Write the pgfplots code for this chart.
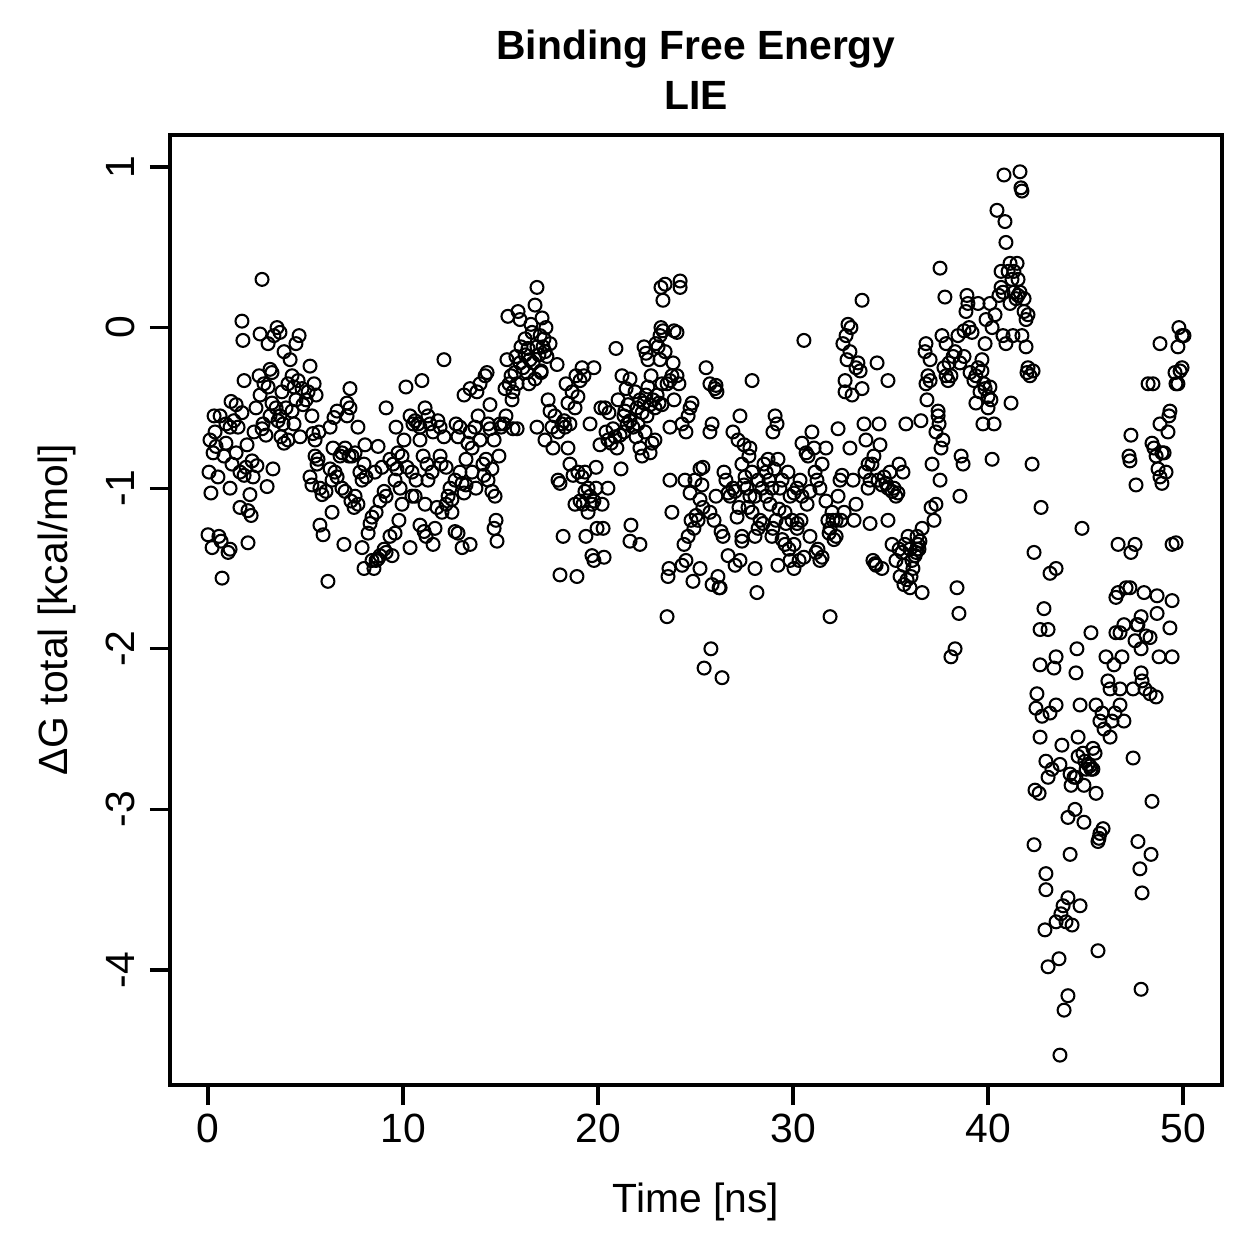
\documentclass[border=0pt]{standalone}
\usepackage{fontspec}
\setmainfont{Liberation Sans}
\usepackage{pgfplots}
\pgfplotsset{compat=1.18}

\begin{document}
\begin{tikzpicture}[font=\fontsize{9.8bp}{11.8bp}\selectfont]
% page frame around the plot region
\path[use as bounding box] (-40.8bp,-41.76bp) rectangle (261.36bp,260.4bp);
\begin{axis}[
  at={(0,0)}, anchor=south west,
  width=252.48bp, height=228bp, scale only axis,
  clip=false,
  xmin=-1.95, xmax=52, ymin=-4.716, ymax=1.199,
  axis line style={line width=0.75bp},
  tick style={line width=0.75bp, black},
  tick align=outside, major tick length=4.8bp,
  xtick pos=bottom, ytick pos=left,
  xtick={0,10,20,30,40,50}, xticklabels={0,10,20,30,40,50},
  ytick={-4,-3,-2,-1,0,1}, yticklabels={-4,-3,-2,-1,0,1},
  xticklabel style={anchor=base, yshift=-9bp},
  yticklabel style={xshift=-3.6bp, rotate=90, anchor=base},
]
\addplot[only marks, mark=o, mark size=1.55bp, mark options={line width=0.5bp, black}]
table[row sep=\\] {
x y\\
0.00 -1.29\\ 0.05 -0.90\\ 0.10 -0.70\\ 0.15 -1.03\\ 0.21 -1.37\\ 0.31 -0.55\\ 0.36 -0.65\\ 0.26 -0.78\\ 0.56 -1.30\\ 0.67 -1.33\\
0.62 -0.55\\ 0.51 -0.93\\ 0.72 -1.56\\ 0.41 -0.74\\ 0.82 -0.80\\ 0.92 -0.60\\ 1.03 -1.40\\ 1.13 -1.38\\ 1.13 -0.62\\ 0.92 -0.72\\
1.18 -0.46\\ 1.44 -0.48\\ 1.33 -0.58\\ 1.23 -0.85\\ 1.54 -0.62\\ 1.13 -1.00\\ 1.64 -0.90\\ 1.85 -0.92\\ 1.44 -0.78\\ 1.74 -0.53\\
1.74 0.04\\ 1.79 -0.08\\ 1.64 -1.12\\ 1.95 -0.87\\ 1.85 -0.33\\ 2.05 -1.14\\ 2.21 -1.17\\ 2.05 -1.34\\ 2.15 -1.04\\ 2.31 -0.93\\
2.26 -0.83\\ 2.00 -0.73\\
2.46 -0.50\\ 2.36 -0.65\\ 2.51 -0.86\\ 2.62 -0.30\\ 2.67 -0.42\\ 2.82 -0.60\\ 2.87 -0.35\\ 2.77 0.30\\ 2.67 -0.04\\ 2.77 -0.63\\
2.97 -0.67\\ 3.03 -0.99\\ 3.08 -0.37\\ 3.18 -0.26\\ 3.08 -0.10\\ 3.28 -0.28\\ 3.28 -0.47\\ 3.33 -0.88\\ 3.18 -0.55\\
3.38 -0.05\\ 3.54 0.00\\ 3.69 -0.03\\ 3.49 -0.50\\ 3.59 -0.58\\ 3.74 -0.68\\ 3.90 -0.72\\ 3.85 -0.60\\ 4.10 -0.70\\ 3.79 -0.40\\
3.90 -0.15\\ 3.69 -0.55\\ 4.10 -0.35\\ 4.00 -0.50\\ 4.21 -0.20\\ 4.31 -0.52\\ 4.41 -0.60\\ 4.31 -0.30\\ 4.51 -0.10\\ 4.41 -0.37\\
4.51 -0.45\\ 4.62 -0.33\\ 4.72 -0.68\\ 4.67 -0.05\\ 4.82 -0.38\\ 4.87 -0.48\\ 5.03 -0.45\\ 5.13 -0.40\\ 5.23 -0.24\\ 5.33 -0.55\\
5.44 -0.35\\ 5.54 -0.42\\
5.23 -0.93\\ 5.33 -0.98\\ 5.49 -0.80\\ 5.64 -0.82\\ 5.74 -1.00\\ 5.85 -1.04\\ 5.74 -1.23\\ 5.90 -1.29\\ 5.59 -0.85\\ 5.49 -0.70\\
5.69 -0.65\\ 5.38 -0.66\\ 6.05 -1.02\\
6.15 -1.58\\ 6.26 -0.88\\ 6.41 -0.75\\ 6.51 -0.90\\ 6.62 -0.93\\ 6.36 -0.95\\ 6.26 -0.62\\ 6.46 -0.56\\ 6.62 -0.52\\ 6.77 -0.80\\
6.87 -0.78\\ 7.03 -0.75\\ 6.87 -1.00\\ 7.03 -1.02\\ 6.97 -1.35\\ 6.36 -1.15\\
7.13 -0.47\\ 7.28 -0.38\\ 7.28 -0.50\\ 7.13 -0.55\\ 7.23 -0.80\\ 7.38 -0.80\\ 7.33 -1.08\\ 7.49 -1.12\\ 7.54 -0.78\\ 7.69 -0.62\\
7.54 -1.05\\ 7.69 -1.10\\ 7.79 -0.90\\ 7.90 -0.95\\ 7.90 -1.37\\ 8.00 -1.50\\ 8.05 -0.73\\ 8.00 -0.85\\
8.31 -1.22\\ 8.21 -1.28\\ 8.41 -1.18\\ 8.10 -0.93\\ 8.41 -1.45\\ 8.62 -1.45\\ 8.51 -1.50\\ 8.82 -1.42\\ 8.72 -1.44\\ 8.62 -1.15\\
8.82 -1.08\\ 8.72 -0.74\\ 8.92 -0.87\\ 8.56 -0.90\\ 9.03 -1.02\\ 9.13 -1.05\\ 9.13 -0.50\\ 9.13 -1.40\\ 9.03 -1.38\\ 9.33 -0.82\\
9.33 -1.30\\ 9.44 -1.42\\
9.49 -0.85\\ 9.59 -0.95\\ 9.69 -0.88\\ 9.74 -0.78\\ 9.85 -1.00\\ 9.64 -0.62\\ 9.95 -0.80\\ 10.05 -0.70\\ 9.95 -1.10\\ 9.59 -1.28\\
9.79 -1.20\\ 10.36 -1.37\\ 10.15 -0.37\\ 10.21 -0.87\\
10.36 -0.55\\ 10.51 -0.60\\ 10.62 -0.58\\ 10.77 -0.60\\ 10.46 -0.90\\ 10.46 -1.05\\ 10.67 -0.95\\ 10.87 -0.62\\ 10.97 -0.33\\ 10.87 -1.23\\
11.08 -1.27\\ 10.62 -1.05\\ 10.87 -0.70\\ 11.03 -0.80\\ 11.23 -0.85\\ 11.13 -1.10\\
11.13 -0.50\\ 11.28 -0.55\\ 11.38 -0.60\\ 11.18 -1.30\\ 11.54 -1.35\\ 11.64 -1.25\\ 11.74 -1.12\\ 11.49 -0.90\\ 11.28 -0.95\\ 11.54 -0.65\\
11.90 -0.62\\ 11.79 -0.58\\ 11.90 -0.80\\ 12.00 -1.15\\ 12.10 -0.68\\ 12.10 -0.20\\ 12.21 -1.10\\
12.21 -0.87\\ 11.95 -0.85\\ 12.31 -1.05\\ 12.41 -1.00\\ 12.51 -1.07\\ 12.67 -1.27\\ 12.67 -0.95\\ 12.72 -0.60\\ 12.82 -0.68\\ 12.92 -0.62\\
12.51 -1.15\\ 12.92 -0.90\\ 13.03 -0.97\\ 12.82 -1.28\\ 13.03 -1.37\\ 13.13 -1.03\\ 13.23 -0.98\\
13.23 -0.82\\ 13.33 -0.72\\ 13.44 -0.65\\ 13.44 -1.35\\ 13.44 -0.38\\ 13.13 -0.42\\ 13.54 -0.75\\ 13.54 -0.90\\ 13.69 -0.62\\ 13.85 -0.55\\
13.95 -0.35\\ 13.79 -0.40\\ 13.95 -0.70\\ 14.10 -0.85\\ 14.26 -0.82\\ 13.74 -1.00\\ 14.15 -0.92\\
14.21 -0.30\\ 14.31 -0.28\\ 14.36 -0.60\\ 14.46 -0.63\\ 14.36 -0.95\\ 14.56 -1.02\\ 14.72 -1.05\\ 14.56 -0.88\\ 14.82 -1.33\\ 14.77 -1.20\\
14.67 -1.25\\ 14.46 -0.48\\ 14.67 -0.70\\ 14.92 -0.80\\ 14.97 -0.60\\
15.03 -0.62\\ 15.18 -0.60\\ 15.28 -0.55\\ 15.23 -0.38\\ 15.33 -0.20\\ 15.38 0.07\\ 15.54 -0.30\\ 15.44 -0.35\\ 15.64 -0.40\\ 15.74 -0.28\\
15.64 -0.63\\ 15.85 -0.63\\ 15.79 -0.18\\ 16.00 0.05\\ 15.90 0.10\\ 16.00 -0.22\\ 15.85 -0.35\\ 15.59 -0.45\\ 16.15 -0.25\\ 16.05 -0.12\\
16.26 -0.17\\ 16.36 -0.28\\ 16.41 -0.13\\ 16.51 -0.20\\ 16.62 -0.03\\ 16.26 -0.07\\ 16.67 -0.22\\ 16.77 -0.32\\ 16.87 -0.12\\ 16.97 -0.17\\
16.77 0.14\\ 16.56 0.02\\ 17.03 -0.05\\ 16.87 -0.62\\ 17.08 -0.27\\ 16.46 -0.35\\ 16.87 0.25\\
17.18 -0.12\\ 17.28 -0.15\\ 17.13 0.06\\ 17.33 0.00\\ 17.23 -0.07\\ 17.38 -0.18\\ 17.08 -0.28\\ 17.54 -0.10\\ 17.44 -0.45\\ 17.54 -0.52\\
17.64 -0.62\\ 17.79 -0.55\\ 17.69 -0.75\\ 17.90 -0.23\\ 17.95 -0.65\\ 17.95 -0.95\\ 18.05 -0.97\\ 17.28 -0.70\\ 18.15 -0.60\\ 18.21 -1.30\\
18.05 -1.54\\ 18.36 -0.35\\ 18.26 -0.58\\
18.31 -0.62\\ 18.46 -0.47\\ 18.56 -0.60\\ 18.46 -0.75\\ 18.56 -0.85\\ 18.67 -0.40\\ 18.87 -0.30\\ 19.08 -0.33\\ 18.82 -0.50\\ 18.72 -0.92\\
18.82 -1.10\\ 18.92 -1.55\\ 18.97 -0.90\\ 19.18 -0.93\\ 19.33 -0.90\\ 19.49 -1.00\\ 19.33 -1.02\\ 19.08 -1.08\\ 19.18 -0.25\\ 18.97 -0.43\\
19.23 -1.10\\ 19.59 -1.05\\ 19.69 -1.10\\ 19.79 -1.08\\ 19.49 -1.15\\ 19.38 -1.30\\ 19.69 -1.42\\ 19.79 -1.45\\ 19.90 -1.00\\ 19.59 -0.60\\
19.95 -1.25\\ 19.90 -0.87\\ 20.10 -0.73\\ 20.15 -0.50\\ 19.79 -0.25\\ 20.41 -0.65\\ 20.31 -1.43\\ 20.26 -1.25\\ 20.51 -1.00\\ 20.21 -1.10\\
19.28 -0.30\\
20.51 -0.70\\ 20.67 -0.72\\ 20.36 -0.50\\ 20.56 -0.53\\ 20.77 -0.63\\ 20.87 -0.68\\ 20.97 -0.75\\ 21.13 -0.67\\ 20.92 -0.13\\ 21.03 -0.45\\
21.18 -0.88\\ 21.33 -0.65\\ 21.49 -0.60\\ 21.23 -0.30\\ 21.44 -0.38\\ 21.38 -0.52\\ 21.33 -0.55\\ 21.54 -0.48\\ 21.64 -1.33\\ 21.69 -1.23\\
21.64 -0.58\\ 21.79 -0.62\\ 21.64 -0.32\\ 21.90 -0.40\\ 22.00 -0.50\\ 22.15 -0.45\\ 22.05 -0.60\\ 21.95 -0.68\\ 22.26 -0.53\\ 22.36 -0.47\\
22.15 -0.75\\ 22.26 -0.80\\ 22.15 -1.35\\ 22.41 -0.65\\ 22.46 -0.42\\ 22.56 -0.37\\
22.36 -0.12\\ 22.46 -0.16\\ 22.56 -0.20\\ 22.72 -0.30\\ 22.67 -0.48\\ 22.92 -0.50\\ 22.82 -0.45\\ 22.51 -0.55\\ 22.77 -0.72\\ 22.67 -0.78\\
23.03 -0.42\\ 22.97 -0.10\\ 23.18 -0.20\\ 23.08 -0.12\\ 23.18 -0.05\\ 23.13 -0.47\\ 23.28 -0.48\\ 22.92 -0.70\\ 23.28 -0.35\\
23.33 0.17\\ 23.23 0.25\\ 23.44 0.27\\ 23.33 -0.02\\ 23.23 0.00\\ 23.44 -0.15\\ 23.54 -0.35\\ 23.69 -0.33\\ 23.79 -0.30\\ 23.54 -1.80\\
23.64 -1.50\\ 23.59 -1.55\\ 23.79 -1.15\\ 23.69 -0.95\\ 23.69 -0.62\\ 23.90 -0.45\\ 24.05 -0.03\\ 23.90 -0.02\\ 24.21 0.25\\ 24.21 0.29\\
24.15 -0.35\\ 23.85 -0.22\\ 24.05 -0.30\\
24.31 -0.60\\ 24.51 -0.65\\ 24.41 -1.35\\ 24.51 -1.45\\ 24.46 -0.95\\ 24.31 -1.48\\ 24.62 -0.55\\ 24.82 -0.47\\ 24.72 -0.50\\ 24.72 -1.03\\
24.62 -1.30\\ 24.92 -1.25\\ 24.87 -1.58\\ 24.77 -1.20\\ 24.97 -0.95\\ 25.03 -1.17\\
25.23 -0.88\\ 25.38 -0.87\\ 25.33 -0.98\\ 25.23 -1.07\\ 25.38 -1.12\\ 25.13 -1.20\\ 25.23 -1.50\\ 25.44 -2.12\\ 25.79 -2.00\\ 25.54 -0.25\\
25.74 -0.35\\ 25.85 -0.60\\ 25.74 -0.65\\ 26.00 -0.38\\ 26.10 -0.40\\ 26.05 -0.36\\ 25.74 -1.15\\ 25.85 -1.60\\ 26.15 -1.55\\ 25.95 -1.20\\
26.05 -1.05\\ 26.21 -1.62\\
26.36 -2.18\\ 26.31 -1.27\\ 26.41 -1.30\\ 26.67 -1.42\\ 26.56 -0.95\\ 26.46 -0.90\\ 26.77 -1.05\\ 26.92 -1.00\\ 27.03 -1.02\\ 26.67 -1.03\\
27.03 -1.48\\ 26.92 -0.65\\ 27.13 -1.18\\ 27.28 -0.55\\ 27.18 -0.70\\ 27.38 -0.85\\ 27.23 -1.12\\ 27.49 -0.73\\ 27.28 -1.45\\ 27.38 -1.30\\
27.38 -1.33\\ 26.26 -1.62\\
27.49 -0.98\\ 27.64 -1.00\\ 27.79 -1.05\\ 27.54 -0.93\\ 27.69 -1.12\\ 27.90 -1.15\\ 27.74 -0.80\\ 27.90 -0.90\\ 27.90 -0.33\\ 27.79 -0.75\\
28.05 -1.30\\ 28.05 -1.50\\ 28.21 -1.25\\ 28.15 -1.65\\ 28.05 -1.05\\ 28.21 -0.95\\ 28.41 -1.00\\ 28.31 -1.20\\ 28.46 -1.22\\
28.51 -0.85\\ 28.62 -0.90\\ 28.72 -0.82\\ 28.77 -0.95\\ 28.92 -1.00\\ 28.82 -1.10\\ 28.62 -1.05\\ 28.92 -1.30\\ 29.03 -0.88\\ 29.13 -1.20\\
28.97 -1.25\\ 29.23 -0.82\\ 29.28 -1.13\\ 29.33 -1.00\\ 29.44 -1.32\\ 28.97 -0.65\\
29.08 -0.55\\ 29.18 -0.60\\ 29.44 -0.95\\ 29.59 -1.15\\ 29.64 -1.22\\ 29.59 -1.35\\ 29.23 -1.48\\ 29.85 -1.45\\ 29.74 -0.90\\ 29.85 -1.05\\
29.95 -1.20\\ 30.05 -1.03\\ 30.05 -1.50\\ 29.79 -1.38\\ 30.05 -1.35\\ 30.21 -1.25\\
30.21 -1.22\\ 30.21 -1.00\\ 30.36 -0.95\\ 30.46 -1.05\\ 30.41 -1.20\\ 30.31 -1.45\\ 30.56 -1.43\\ 30.46 -0.72\\ 30.67 -0.78\\ 30.77 -0.80\\
30.56 -0.08\\ 30.87 -1.02\\ 30.97 -0.65\\ 30.72 -1.10\\ 30.87 -1.30\\ 31.08 -0.75\\
31.13 -0.90\\ 31.23 -0.95\\ 31.18 -1.40\\ 31.38 -1.45\\ 31.28 -1.38\\ 31.49 -1.43\\ 31.38 -1.00\\ 31.49 -0.85\\ 31.69 -0.75\\ 31.79 -1.20\\
31.90 -1.25\\ 31.69 -1.08\\ 32.00 -1.15\\ 32.10 -1.32\\ 31.85 -1.28\\ 31.90 -1.80\\ 32.21 -1.30\\ 32.05 -1.20\\
32.21 -1.20\\ 32.31 -1.05\\ 32.41 -0.95\\ 32.51 -0.92\\ 32.31 -0.63\\ 32.62 -1.15\\ 32.46 -1.20\\ 32.67 -0.40\\ 32.67 -0.33\\ 32.56 -0.10\\
32.72 -0.05\\ 32.82 0.02\\ 32.97 0.00\\ 32.77 -0.20\\ 32.92 -0.15\\ 33.03 -0.42\\ 32.92 -0.75\\ 33.08 -0.95\\ 33.23 -1.10\\ 33.13 -1.20\\
33.23 -0.25\\ 33.33 -0.22\\
33.54 0.17\\ 33.44 -0.27\\ 33.54 -0.38\\ 33.64 -0.60\\ 33.74 -0.70\\ 33.85 -0.85\\ 33.69 -0.90\\ 33.95 -0.95\\ 34.05 -0.85\\ 34.15 -0.80\\
33.85 -1.00\\ 33.95 -1.22\\ 34.10 -1.45\\ 34.26 -1.48\\ 34.21 -1.47\\ 34.31 -0.22\\ 34.41 -0.60\\ 34.36 -0.95\\ 34.56 -0.98\\ 34.56 -1.50\\
34.46 -0.73\\
34.67 -0.93\\ 34.77 -0.97\\ 34.87 -1.00\\ 34.97 -0.90\\ 35.08 -1.02\\ 34.87 -1.20\\ 35.18 -1.00\\ 35.28 -1.05\\ 34.87 -0.33\\ 35.44 -0.85\\
35.38 -1.03\\ 35.08 -1.35\\ 35.44 -1.38\\ 35.28 -1.45\\ 35.49 -1.55\\
35.59 -1.40\\ 35.69 -1.48\\ 35.74 -1.35\\ 35.69 -1.60\\ 35.85 -1.57\\ 35.64 -0.90\\ 35.79 -0.60\\ 35.90 -1.30\\ 36.00 -1.38\\ 36.05 -1.55\\
36.10 -1.45\\ 36.00 -1.62\\ 36.26 -1.42\\ 36.15 -1.50\\ 36.31 -1.40\\ 36.36 -1.38\\
36.41 -1.35\\ 36.51 -1.33\\ 36.36 -1.30\\ 36.46 -1.38\\ 36.62 -1.25\\ 36.62 -1.65\\ 36.56 -0.58\\ 36.77 -0.15\\ 36.82 -0.10\\ 36.92 -0.30\\
37.03 -0.33\\ 36.82 -0.35\\ 36.87 -0.45\\ 37.03 -0.20\\ 37.13 -0.85\\ 37.08 -1.12\\ 37.23 -1.20\\ 37.33 -1.10\\ 37.33 -0.65\\ 37.44 -0.52\\
37.54 0.37\\ 37.49 -0.60\\ 37.54 -0.95\\ 37.44 -0.55\\ 37.64 -0.05\\ 37.74 -0.25\\ 37.85 -0.30\\ 37.95 -0.33\\ 37.69 -0.70\\ 37.59 -0.75\\
37.85 -0.10\\ 38.00 -0.22\\ 38.10 -0.30\\ 38.21 -0.18\\ 37.79 0.19\\ 38.10 -2.05\\ 38.31 -2.00\\ 38.41 -1.62\\ 38.56 -1.05\\ 38.51 -1.78\\
38.62 -0.80\\ 38.72 -0.85\\ 38.31 -0.15\\
38.46 -0.05\\ 38.87 0.10\\ 38.97 0.15\\ 38.92 0.20\\ 38.77 -0.02\\ 39.03 0.00\\ 39.18 -0.03\\ 38.77 -0.18\\ 38.56 -0.22\\ 39.08 -0.28\\
39.28 -0.33\\ 39.38 -0.30\\ 39.38 -0.47\\ 39.49 -0.25\\ 39.59 -0.40\\ 39.69 -0.20\\ 39.49 0.15\\ 39.69 -0.27\\ 39.79 -0.35\\ 39.74 -0.60\\
39.85 -0.38\\ 40.00 -0.43\\ 39.85 -0.10\\ 39.90 0.05\\ 40.10 0.15\\ 40.36 0.08\\ 40.21 0.00\\ 40.10 -0.37\\ 40.00 -0.50\\ 40.21 -0.82\\
40.31 -0.60\\ 40.15 -0.45\\
40.46 0.73\\ 40.56 0.20\\ 40.67 0.25\\ 40.67 0.35\\ 40.77 0.22\\ 40.87 0.66\\ 40.92 0.53\\ 40.77 -0.05\\ 40.92 -0.10\\ 40.82 0.95\\
41.03 0.35\\ 41.13 0.15\\ 41.23 0.30\\ 41.13 0.40\\ 41.18 -0.47\\ 41.33 0.22\\ 41.28 -0.05\\ 41.44 0.18\\
41.33 0.35\\ 41.49 0.40\\ 41.64 0.97\\ 41.69 0.87\\ 41.74 0.85\\ 41.64 0.22\\ 41.54 0.20\\ 41.54 0.30\\ 41.85 0.18\\ 41.85 0.10\\
41.74 -0.05\\ 41.95 0.05\\ 41.95 -0.12\\ 42.00 -0.28\\ 42.15 -0.30\\ 42.31 -0.27\\ 42.05 -0.25\\ 42.05 0.08\\
42.26 -0.85\\ 42.36 -1.40\\ 42.46 -2.37\\ 42.51 -2.28\\ 42.41 -2.88\\ 42.62 -2.90\\ 42.67 -2.55\\ 42.77 -2.42\\ 42.67 -2.10\\ 42.67 -1.88\\
42.87 -1.75\\ 42.72 -1.12\\ 42.36 -3.22\\ 42.92 -3.75\\ 42.97 -3.50\\ 42.97 -3.40\\ 43.08 -2.80\\ 42.97 -2.70\\ 43.08 -1.88\\ 43.18 -2.40\\
43.18 -1.53\\ 43.49 -1.50\\
43.38 -2.12\\ 43.49 -2.05\\ 43.49 -2.35\\ 43.28 -2.75\\ 43.69 -2.72\\ 43.08 -3.98\\ 43.49 -3.70\\ 43.64 -3.93\\ 43.85 -3.60\\ 44.10 -3.55\\
43.74 -3.65\\ 44.00 -3.70\\ 43.90 -4.25\\ 43.69 -4.53\\ 44.10 -4.16\\ 44.31 -3.72\\ 44.10 -3.05\\ 44.21 -2.78\\ 43.79 -2.60\\ 44.21 -3.28\\
44.46 -3.00\\ 44.41 -2.80\\
44.26 -2.85\\ 44.51 -2.80\\ 44.62 -2.55\\ 44.56 -2.00\\ 44.62 -2.67\\ 44.87 -2.65\\ 44.97 -2.70\\ 44.92 -2.85\\ 44.92 -3.08\\ 44.72 -3.60\\
44.82 -1.25\\ 44.72 -2.35\\ 44.51 -2.15\\ 45.13 -2.72\\ 45.03 -2.75\\ 45.23 -2.73\\
45.28 -1.90\\ 45.38 -2.62\\ 45.49 -2.65\\ 45.38 -2.75\\ 45.54 -2.90\\ 45.28 -2.75\\ 45.74 -3.15\\ 45.69 -3.18\\ 45.64 -3.20\\ 45.90 -3.12\\
45.64 -3.88\\ 45.74 -2.45\\ 45.95 -2.50\\ 45.85 -2.40\\ 46.15 -2.20\\ 46.05 -2.05\\ 45.54 -2.35\\
46.26 -2.55\\ 46.36 -2.45\\ 46.26 -2.25\\ 46.46 -2.10\\ 46.51 -2.40\\ 46.56 -1.90\\ 46.67 -1.65\\ 46.56 -1.68\\ 46.67 -1.35\\ 46.77 -2.25\\
46.77 -2.35\\ 46.97 -2.45\\ 46.77 -1.90\\ 46.97 -1.85\\ 47.08 -1.62\\ 47.28 -1.62\\ 47.23 -0.80\\ 47.28 -0.83\\ 47.33 -0.67\\ 47.33 -1.40\\
46.87 -2.05\\
47.44 -2.68\\ 47.44 -2.25\\ 47.54 -1.95\\ 47.64 -1.85\\ 47.54 -1.35\\ 47.59 -0.98\\ 47.69 -1.85\\ 47.85 -1.80\\ 47.85 -2.00\\ 47.85 -2.15\\
47.90 -2.20\\ 47.69 -3.20\\ 47.79 -3.37\\ 47.90 -3.52\\ 47.85 -4.12\\ 48.00 -1.65\\ 48.10 -1.92\\ 48.05 -2.25\\ 48.31 -1.93\\ 48.41 -2.95\\
48.36 -3.28\\
48.21 -0.35\\ 48.46 -0.35\\ 48.41 -0.72\\ 48.51 -0.75\\ 48.62 -0.80\\ 48.67 -1.67\\ 48.67 -1.78\\ 48.77 -2.05\\ 48.62 -2.30\\ 48.31 -2.28\\
48.82 -0.60\\ 48.72 -0.88\\ 48.92 -0.97\\ 48.82 -0.93\\ 48.92 -0.78\\ 49.03 -0.78\\ 49.23 -0.65\\ 49.28 -0.55\\ 48.82 -0.10\\ 49.33 -0.52\\
49.13 -0.90\\ 49.44 -1.35\\ 49.33 -1.87\\ 49.44 -1.70\\ 49.44 -2.05\\ 49.64 -1.34\\ 49.64 -0.35\\ 49.74 -0.35\\ 49.85 -0.27\\ 49.95 -0.25\\
49.74 -0.12\\ 49.95 -0.05\\ 49.79 0.00\\ 50.05 -0.05\\ 49.59 -0.28\\
};
% titles and axis labels
\node[font=\fontsize{9.8bp}{11.8bp}\selectfont\bfseries, anchor=base, yshift=18.1bp] at (rel axis cs:0.5,1) {Binding Free Energy};
\node[font=\fontsize{9.8bp}{11.8bp}\selectfont\bfseries, anchor=base, yshift=6.1bp] at (rel axis cs:0.5,1) {LIE};
\node[anchor=base, yshift=-30.5bp] at (rel axis cs:0.5,0) {Time [ns]};
\node[xshift=-24.7bp, rotate=90, anchor=base] at (rel axis cs:0,0.5) {ΔG total [kcal/mol]};
\end{axis}
\end{tikzpicture}
\end{document}
